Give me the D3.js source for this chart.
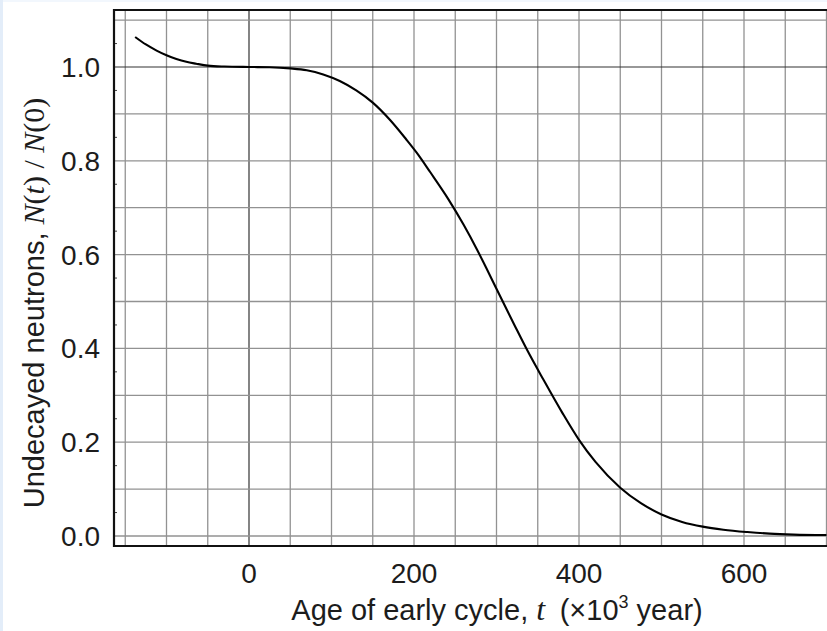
<!DOCTYPE html>
<html>
<head>
<meta charset="utf-8">
<script src="https://cdn.jsdelivr.net/npm/d3@7"></script>
<style>
  html, body { margin: 0; padding: 0; background: #ffffff; }
  svg { display: block; }
  text { font-family: "Liberation Sans", Arial, sans-serif; fill: #1c1c1c; }
</style>
</head>
<body>
<svg id="chart" width="827" height="631"></svg>
<script>
// Age of the early cycle (×10^3 year)
const ages = [-138, -125, -112, -100, -88, -76, -64, -50, -30, 0, 25, 50, 70, 90, 110, 130, 150, 171, 190, 203, 220, 241, 260, 276, 290, 307, 322, 337, 357, 380, 400, 420, 450, 475, 500, 525, 550, 575, 604, 631, 660, 700];
// Fraction of neutrons left undecayed, N(t)/N(0)
const fraction = [1.064, 1.048, 1.035, 1.025, 1.017, 1.011, 1.007, 1.003, 1.001, 1.000, 0.9995, 0.997, 0.993, 0.984, 0.970, 0.950, 0.924, 0.887, 0.847, 0.818, 0.775, 0.720, 0.664, 0.612, 0.563, 0.502, 0.449, 0.397, 0.333, 0.262, 0.205, 0.158, 0.103, 0.070, 0.046, 0.030, 0.020, 0.0135, 0.0085, 0.005, 0.003, 0.002];

const xTickLabels = [0, 200, 400, 600];
const yTickLabels = ["0.0", "0.2", "0.4", "0.6", "0.8", "1.0"];
const xGrid = d3.range(-150, 701, 50);
const yGrid = d3.range(0, 1.11, 0.1).map(v => +v.toFixed(2));
const yMinor = [0.05, 0.15, 0.25, 0.35, 0.45, 0.55, 0.65, 0.75, 0.85, 0.95, 1.05];

const svg = d3.select("#chart");
const W = 827, H = 631;
const frame = { left: 114, top: 10, bottom: 546, right: 840 };

const x = d3.scaleLinear().domain([-150, 600]).range([125.25, 744]);
const y = d3.scaleLinear().domain([0, 1]).range([536, 67]);

// faint window edge
svg.append("rect").attr("x", 0).attr("y", 0).attr("width", W).attr("height", 2).attr("fill", "#f2f7fd");
svg.append("rect").attr("x", 0).attr("y", 0).attr("width", 3).attr("height", H).attr("fill", "#e3edf9");

const plot = svg.append("g");

// grid
plot.append("g").selectAll("line").data(xGrid).join("line")
  .attr("x1", d => x(d)).attr("x2", d => x(d))
  .attr("y1", frame.top).attr("y2", frame.bottom)
  .attr("stroke", d => d === 0 ? "#333" : "#929292")
  .attr("stroke-width", d => d === 0 ? 1.2 : 1.3);
plot.append("g").selectAll("line").data(yGrid).join("line")
  .attr("x1", frame.left).attr("x2", frame.right)
  .attr("y1", d => y(d)).attr("y2", d => y(d))
  .attr("stroke", d => d === 1 ? "#333" : "#929292")
  .attr("stroke-width", d => d === 1 ? 1.2 : 1.3);

// minor ticks on the left axis
plot.append("g").selectAll("line").data(yMinor).join("line")
  .attr("x1", frame.left).attr("x2", frame.left + 3)
  .attr("y1", d => y(d)).attr("y2", d => y(d))
  .attr("stroke", "#444").attr("stroke-width", 1);

// frame
plot.append("path")
  .attr("d", `M${frame.right},${frame.top}H${frame.left}V${frame.bottom}H${frame.right}`)
  .attr("fill", "none").attr("stroke", "#111").attr("stroke-width", 2.2);

// curve
const line = d3.line()
  .x((d, i) => x(ages[i]))
  .y(d => y(d))
  .curve(d3.curveMonotoneX);
plot.append("path")
  .datum(fraction)
  .attr("d", line)
  .attr("fill", "none")
  .attr("stroke", "#000")
  .attr("stroke-width", 2.1);

// x tick labels
svg.append("g").selectAll("text").data(xTickLabels).join("text")
  .attr("x", d => x(d)).attr("y", 583)
  .attr("text-anchor", "middle")
  .attr("font-size", 28)
  .text(d => d);

// y tick labels
svg.append("g").selectAll("text").data(yTickLabels).join("text")
  .attr("x", 100).attr("y", d => y(+d) + 10)
  .attr("text-anchor", "end")
  .attr("font-size", 28)
  .text(d => d);

// x axis title
const xt = svg.append("text")
  .attr("x", 497).attr("y", 620)
  .attr("text-anchor", "middle")
  .attr("font-size", 29);
xt.append("tspan").text("Age of early cycle, ");
xt.append("tspan").attr("font-family", "Liberation Serif, serif").attr("font-style", "italic").attr("font-size", 32).text("t");
xt.append("tspan").text("\u2002(\u00d710");
xt.append("tspan").attr("font-size", 18).attr("dy", -12).text("3");
xt.append("tspan").attr("dy", 12).text(" year)");

// y axis title
const yt = svg.append("text")
  .attr("transform", "translate(44,303) rotate(-90)")
  .attr("text-anchor", "middle")
  .attr("font-size", 29);
yt.append("tspan").text("Undecayed neutrons, ");
const serif = "Liberation Serif, serif";
yt.append("tspan").attr("font-family", serif).attr("font-style", "italic").attr("font-size", 30).text("N");
yt.append("tspan").attr("font-family", serif).attr("font-size", 30).text("(");
yt.append("tspan").attr("font-family", serif).attr("font-style", "italic").attr("font-size", 30).text("t");
yt.append("tspan").attr("font-family", serif).attr("font-size", 30).text(") / ");
yt.append("tspan").attr("font-family", serif).attr("font-style", "italic").attr("font-size", 30).text("N");
yt.append("tspan").attr("font-family", serif).attr("font-size", 30).text("(0)");
</script>
</body>
</html>
